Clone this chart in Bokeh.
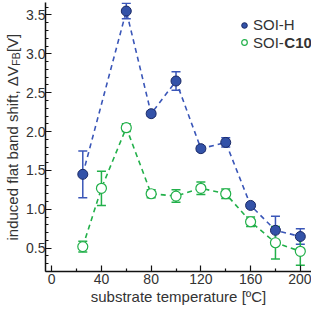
import math
from bokeh.plotting import figure
from bokeh.layouts import row
from bokeh.models import (ColumnDataSource, Whisker, TeeHead, FixedTicker, Label,
                          Legend, LegendItem, Range1d)
from bokeh.embed import file_html
from bokeh.resources import INLINE

# ---- data ----
soi_h_x = [25, 60, 80, 100, 120, 140, 160, 180, 200]
soi_h_y = [1.45, 3.55, 2.23, 2.65, 1.78, 1.86, 1.05, 0.73, 0.65]
soi_h_err = [0.30, 0.10, 0.03, 0.12, 0.03, 0.06, 0.03, 0.18, 0.10]

soi_c10_x = [25, 40, 60, 80, 100, 120, 140, 160, 180, 200]
soi_c10_y = [0.52, 1.27, 2.05, 1.20, 1.17, 1.27, 1.20, 0.84, 0.57, 0.46]
soi_c10_err = [0.07, 0.22, 0.05, 0.05, 0.08, 0.08, 0.06, 0.06, 0.21, 0.18]

x_ticks = [0, 40, 80, 120, 160, 200]
x_tick_labels = ["0", "40", "80", "120", "160", "200"]
x_minor = [20, 60, 100, 140, 180]
y_ticks = [0.5, 1.0, 1.5, 2.0, 2.5, 3.0, 3.5]
y_tick_labels = ["0.5", "1.0", "1.5", "2.0", "2.5", "3.0", "3.5"]
y_minor = [round(0.2 + 0.1 * i, 1) for i in range(35)]

FONT = "Liberation Sans"
TXT = "#333333"
BLUE_FILL = "#3352a8"
BLUE_EDGE = "#1b2a66"
BLUE_LINE = "#3a56b8"
GREEN = "#22b04a"

H = 309
LAB_W = 23
TOP = 2
BOTTOM = 38
MAIN_W = 311 - LAB_W

p = figure(width=MAIN_W, height=H, output_backend="svg", toolbar_location=None,
           x_range=Range1d(-5.0, 209.0), y_range=Range1d(0.2, 3.66),
           min_border_left=20, min_border_right=0, min_border_top=TOP,
           min_border_bottom=BOTTOM)
p.outline_line_color = None
p.grid.visible = False

src_h = ColumnDataSource(dict(x=soi_h_x, y=soi_h_y,
                              upper=[v + e for v, e in zip(soi_h_y, soi_h_err)],
                              lower=[v - e for v, e in zip(soi_h_y, soi_h_err)]))
src_c = ColumnDataSource(dict(x=soi_c10_x, y=soi_c10_y,
                              upper=[v + e for v, e in zip(soi_c10_y, soi_c10_err)],
                              lower=[v - e for v, e in zip(soi_c10_y, soi_c10_err)]))

p.line("x", "y", source=src_h, line_color=BLUE_LINE, line_width=1.6, line_dash="5 4")
p.add_layout(Whisker(base="x", upper="upper", lower="lower", source=src_h,
                     line_color=BLUE_LINE, line_width=1.5,
                     upper_head=TeeHead(size=9, line_color=BLUE_LINE, line_width=1.5),
                     lower_head=TeeHead(size=9, line_color=BLUE_LINE, line_width=1.5)))
r_h = p.scatter("x", "y", source=src_h, size=10, fill_color=BLUE_FILL,
                line_color=BLUE_EDGE, line_width=1)

p.line("x", "y", source=src_c, line_color=GREEN, line_width=1.6, line_dash="5 4")
p.add_layout(Whisker(base="x", upper="upper", lower="lower", source=src_c,
                     line_color=GREEN, line_width=1.5,
                     upper_head=TeeHead(size=9, line_color=GREEN, line_width=1.5),
                     lower_head=TeeHead(size=9, line_color=GREEN, line_width=1.5)))
r_c = p.scatter("x", "y", source=src_c, size=10, fill_color="white",
                line_color=GREEN, line_width=1.2)

# axes
for ax in (p.xaxis[0], p.yaxis[0]):
    ax.axis_line_color = "#111111"
    ax.axis_line_width = 1.5
    ax.major_tick_line_color = "#111111"
    ax.minor_tick_line_color = "#111111"
    ax.major_tick_line_width = 1.2
    ax.minor_tick_line_width = 1.2
    ax.major_tick_in = 6
    ax.major_tick_out = 0
    ax.minor_tick_in = 3
    ax.minor_tick_out = 0
    ax.major_label_text_font = FONT
    ax.major_label_text_font_size = "14px"
    ax.major_label_text_color = TXT

p.xaxis.ticker = FixedTicker(ticks=x_ticks, minor_ticks=x_minor)
p.xaxis.major_label_overrides = dict(zip(x_ticks, x_tick_labels))
p.xaxis.major_label_standoff = 2
p.xaxis.axis_label = "substrate temperature [ºC]"
p.xaxis.axis_label_text_font = FONT
p.xaxis.axis_label_text_font_size = "15px"
p.xaxis.axis_label_text_font_style = "normal"
p.xaxis.axis_label_text_color = TXT
p.xaxis.axis_label_standoff = 1
p.yaxis.ticker = FixedTicker(ticks=y_ticks, minor_ticks=y_minor)
p.yaxis.major_label_overrides = dict(zip(y_ticks, y_tick_labels))
p.yaxis.major_label_standoff = 0

# legend: one legend per row for exact placement
common = dict(padding=0, margin=0, spacing=0, label_height=18, glyph_height=18,
              glyph_width=14, label_standoff=2, border_line_color=None,
              background_fill_alpha=0, label_text_font=FONT,
              label_text_font_size="15px", label_text_color=TXT)
p.add_layout(Legend(items=[LegendItem(label="SOI-H", renderers=[r_h])],
                    location=(192, 237.4), **common))
p.add_layout(Legend(items=[LegendItem(label="SOI-", renderers=[r_c])],
                    location=(192, 219.7), **common))
p.add_layout(Label(x=238.8, y=228.7, x_units="screen", y_units="screen",
                   text="C10", text_font=FONT, text_font_size="15px",
                   text_font_style="bold", text_color=TXT,
                   text_align="left", text_baseline="middle"))

# y-axis title with subscript, in a narrow text-only figure whose frame
# spans the same vertical extent as the main plot frame
ylab = figure(width=LAB_W, height=H, output_backend="svg", toolbar_location=None,
              x_axis_location=None, y_axis_location=None, min_border=0,
              min_border_left=0, min_border_right=0, min_border_top=TOP,
              min_border_bottom=BOTTOM, x_range=Range1d(0, 1), y_range=Range1d(0, 1))
ylab.outline_line_color = None
ylab.grid.visible = False

xc = 12.0
y0 = 31
ylab.add_layout(Label(x=xc, y=y0, x_units="screen", y_units="screen", angle=math.pi / 2,
                      text="induced flat band shift, ΔV", text_font=FONT,
                      text_font_size="15px", text_color=TXT,
                      text_align="left", text_baseline="middle"))
y1 = y0 + 174.8
ylab.add_layout(Label(x=xc + 3.8, y=y1, x_units="screen", y_units="screen",
                      angle=math.pi / 2, text="FB", text_font=FONT,
                      text_font_size="10.5px", text_color=TXT,
                      text_align="left", text_baseline="middle"))
y2 = y1 + 13.6
ylab.add_layout(Label(x=xc, y=y2, x_units="screen", y_units="screen", angle=math.pi / 2,
                      text=" [V]", text_font=FONT, text_font_size="15px",
                      text_color=TXT, text_align="left", text_baseline="middle"))

layout = row(ylab, p, spacing=0)
open("out.html", "w").write(file_html(layout, INLINE))
